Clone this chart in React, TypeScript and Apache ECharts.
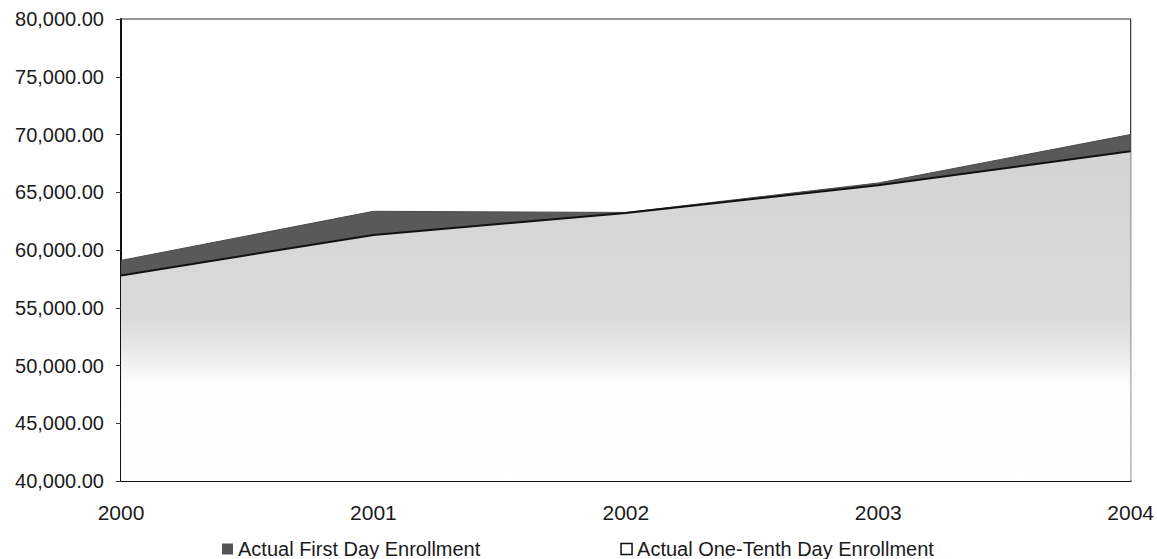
import React, { useEffect, useRef } from "react";
import * as echarts from "echarts";

const years = ["2000", "2001", "2002", "2003", "2004"];
const firstDay = [59100, 63350, 63250, 65800, 70000];
const oneTenthDay = [57800, 61300, 63200, 65600, 68550];
const seriesNames = ["Actual First Day Enrollment", "Actual One-Tenth Day Enrollment"];

const fmt = (v: number) =>
  v.toLocaleString("en-US", { minimumFractionDigits: 2, maximumFractionDigits: 2 });

export default function App() {
  const ref = useRef<HTMLDivElement>(null);
  useEffect(() => {
    const chart = echarts.init(ref.current!, null, { renderer: "svg" });
    const font = "'Liberation Sans', Arial, sans-serif";
    chart.setOption({
      animation: false,
      backgroundColor: "#fff",
      textStyle: { fontFamily: font },
      grid: {
        left: 121,
        right: 20,
        top: 19,
        bottom: 78,
        show: true,
        borderColor: "#333",
        borderWidth: 1.2,
        backgroundColor: "transparent",
      },
      legend: {
        bottom: 0,
        left: 222,
        padding: 0,
        itemGap: 140,
        itemTextGap: 8,
        icon: "rect",
        itemWidth: 11,
        itemHeight: 11,
        textStyle: { fontSize: 20, color: "#1a1a1a", fontFamily: font, lineHeight: 20 },
        data: [
          { name: seriesNames[0], itemStyle: { color: "#555", borderWidth: 0 } },
          {
            name: seriesNames[1],
            itemStyle: { color: "#fff", borderColor: "#111", borderWidth: 1.5 },
          },
        ],
      },
      xAxis: {
        type: "category",
        data: years,
        boundaryGap: false,
        axisLine: { lineStyle: { color: "#111", width: 2 } },
        axisTick: { show: false },
        axisLabel: { fontSize: 21, color: "#1a1a1a", margin: 21, fontFamily: font },
        splitLine: { show: false },
      },
      yAxis: {
        type: "value",
        min: 40000,
        max: 80000,
        interval: 5000,
        axisLine: { show: true, lineStyle: { color: "#111", width: 2 } },
        axisTick: { show: true, length: 5, lineStyle: { color: "#333" } },
        axisLabel: {
          fontSize: 20,
          color: "#1a1a1a",
          margin: 17,
          fontFamily: font,
          formatter: (v: number) => fmt(v),
        },
        splitLine: { show: false },
      },
      series: [
        {
          name: seriesNames[0],
          type: "line",
          data: firstDay,
          symbol: "none",
          lineStyle: { width: 1, color: "#4a4a4a" },
          itemStyle: { color: "#555" },
          areaStyle: { color: "#595959", opacity: 1 },
          z: 1,
        },
        {
          name: seriesNames[1],
          type: "line",
          data: oneTenthDay,
          symbol: "none",
          lineStyle: { width: 2, color: "#111" },
          itemStyle: { color: "#fff", borderColor: "#111" },
          areaStyle: {
            opacity: 1,
            color: new echarts.graphic.LinearGradient(0, 0, 0, 1, [
              { offset: 0, color: "#d4d4d4" },
              { offset: 0.5, color: "#dadada" },
              { offset: 0.6, color: "#e8e8e8" },
              { offset: 0.7, color: "#fcfcfc" },
              { offset: 1, color: "#ffffff" },
            ]),
          },
          z: 2,
        },
      ],
    });
    return () => chart.dispose();
  }, []);
  return (
    <div
      ref={ref}
      style={{ position: "absolute", left: 0, top: 0, width: 1157, height: 559 }}
    />
  );
}
